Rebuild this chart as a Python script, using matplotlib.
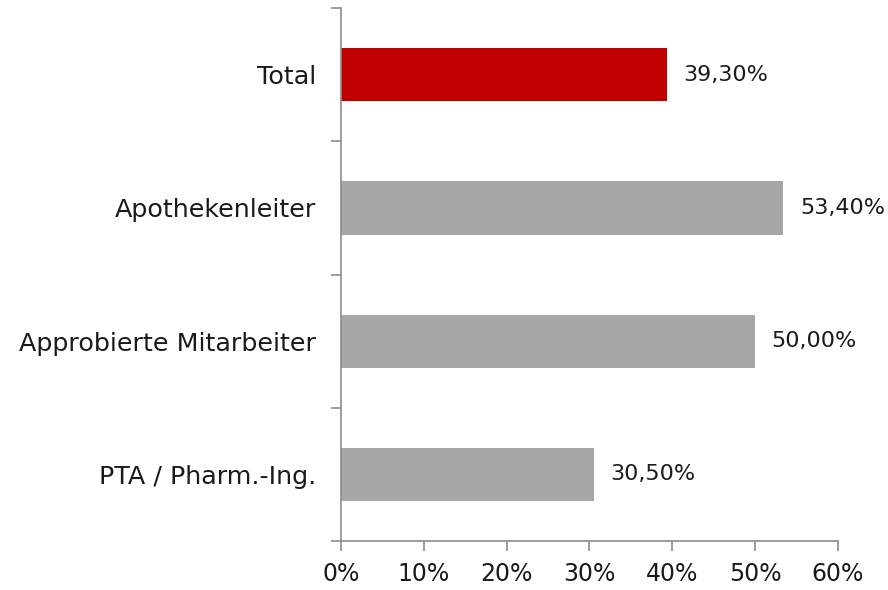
import matplotlib
matplotlib.use('Agg')
import matplotlib.pyplot as plt
import numpy as np

# Data
categories = ['Total', 'Apothekenleiter', 'Approbierte Mitarbeiter', 'PTA / Pharm.-Ing.']
values = [39.3, 53.4, 50.0, 30.5]
bar_colors = ['#C00000', '#A6A6A6', '#A6A6A6', '#A6A6A6']
x_ticks = [0, 10, 20, 30, 40, 50, 60]

plt.rcParams['font.family'] = ['DejaVu Sans']
axis_color = '#8C8C8C'
text_color = '#1a1a1a'

fig = plt.figure(figsize=(8.88, 5.90), dpi=100)
ax = fig.add_axes([0.384, 0.083, 0.5597, 0.9034])

y = np.arange(len(categories))
ax.barh(y, values, height=0.4, color=bar_colors)
ax.set_ylim(len(categories) - 0.5, -0.5)
ax.set_xlim(0, 60)

# category labels sit between the band-boundary ticks
ax.set_yticks(y)
ax.set_yticklabels(categories, fontsize=18.3, color=text_color)
ax.set_yticks(np.arange(len(categories) + 1) - 0.5, minor=True)
ax.tick_params(axis='y', which='major', length=0, pad=18)
ax.tick_params(axis='y', which='minor', length=7, width=1.2, color=axis_color)

ax.set_xticks(x_ticks)
ax.set_xticklabels(['%d%%' % t for t in x_ticks], fontsize=17, color=text_color)
ax.tick_params(axis='x', length=7, width=1.2, color=axis_color, pad=8)

for side in ['top', 'right']:
    ax.spines[side].set_visible(False)
for side in ['left', 'bottom']:
    ax.spines[side].set_color(axis_color)
    ax.spines[side].set_linewidth(1.2)

for yi, v in zip(y, values):
    ax.text(v + 2.0, yi, ('%.2f%%' % v).replace('.', ','), va='center', ha='left',
            fontsize=16, color=text_color)

fig.savefig('out.png', dpi=100)
